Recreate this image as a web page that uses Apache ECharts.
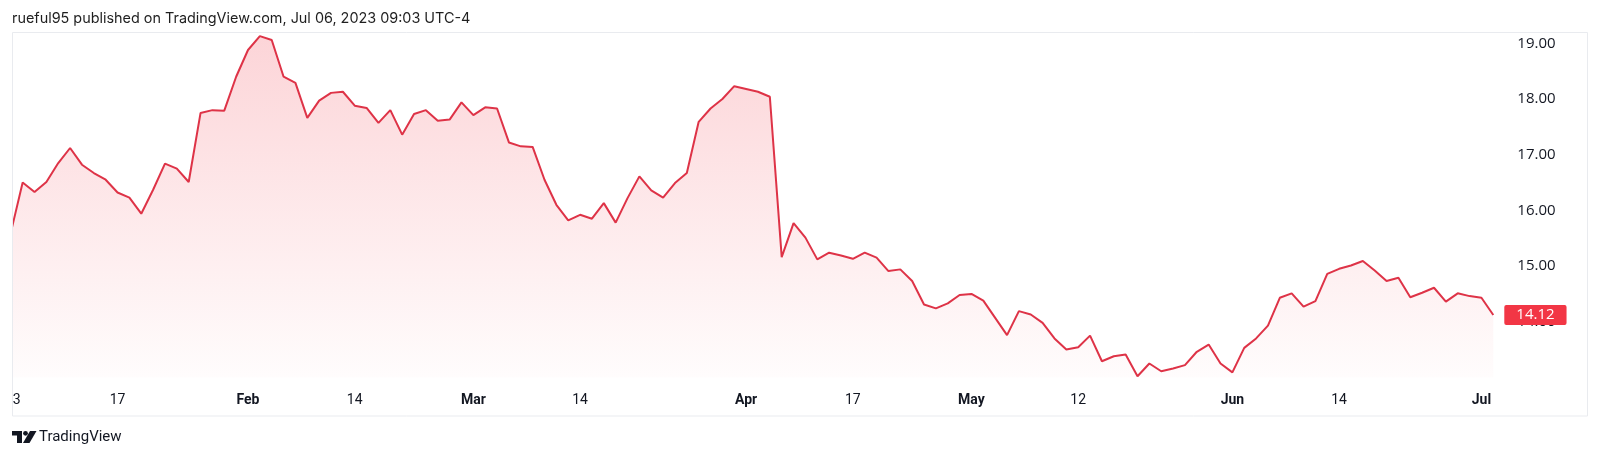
<!DOCTYPE html>
<html>
<head>
<meta charset="utf-8">
<script src="https://cdn.jsdelivr.net/npm/echarts@6/dist/echarts.min.js"></script>
<style>
  html, body { margin: 0; padding: 0; background: #fff; }
  #chart { width: 1600px; height: 458px; }
</style>
</head>
<body>
<div id="chart"></div>
<script>
// trading days 2023, per month
const janDays = [3, 4, 5, 6, 9, 10, 11, 12, 13, 17, 18, 19, 20, 23, 24, 25, 26, 27, 30, 31]
const febDays = [1, 2, 3, 6, 7, 8, 9, 10, 13, 14, 15, 16, 17, 21, 22, 23, 24, 27, 28]
const marDays = [1, 2, 3, 6, 7, 8, 9, 10, 13, 14, 15, 16, 17, 20, 21, 22, 23, 24, 27, 28, 29, 30, 31]
const aprDays = [3, 4, 5, 6, 10, 11, 12, 13, 14, 17, 18, 19, 20, 21, 24, 25, 26, 27, 28]
const mayDays = [1, 2, 3, 4, 5, 8, 9, 10, 11, 12, 15, 16, 17, 18, 19, 22, 23, 24, 25, 26, 30, 31]
const junDays = [1, 2, 5, 6, 7, 8, 9, 12, 13, 14, 15, 16, 20, 21, 22, 23, 26, 27, 28, 29, 30]
const julDays = [3, 5]

const closes = [
  15.60, 16.50, 16.33, 16.51, 16.85, 17.12, 16.82, 16.67, 16.55, 16.32,
  16.23, 15.94, 16.37, 16.84, 16.75, 16.51, 17.75, 17.80, 17.79, 18.40,
  18.88, 19.13, 19.06, 18.40, 18.29, 17.66, 17.97, 18.11, 18.13, 17.88,
  17.84, 17.57, 17.80, 17.36, 17.73, 17.80, 17.61, 17.63, 17.94, 17.71,
  17.85, 17.83, 17.22, 17.15, 17.14, 16.55, 16.10, 15.82, 15.92, 15.85,
  16.13, 15.78, 16.22, 16.61, 16.36, 16.23, 16.49, 16.67, 17.59, 17.83,
  18.00, 18.23, 18.18, 18.13, 18.04, 15.16, 15.77, 15.51, 15.12, 15.24,
  15.19, 15.13, 15.24, 15.15, 14.91, 14.94, 14.73, 14.31, 14.24, 14.33,
  14.48, 14.50, 14.38, 14.07, 13.76, 14.19, 14.13, 13.98, 13.70, 13.50,
  13.54, 13.75, 13.29, 13.38, 13.41, 13.02, 13.25, 13.11, 13.16, 13.22,
  13.46, 13.59, 13.25, 13.09, 13.53, 13.70, 13.93, 14.43, 14.51, 14.27,
  14.37, 14.86, 14.95, 15.01, 15.09, 14.92, 14.73, 14.79, 14.44, 14.52,
  14.61, 14.36, 14.51, 14.46, 14.43, 14.12
]

const tickDates = ['01-03', '01-17', '02-01', '02-14', '03-01', '03-14', '04-03', '04-17', '05-01', '05-12', '06-01', '06-14', '07-03']
const tickLabels = ['3', '17', 'Feb', '14', 'Mar', '14', 'Apr', '17', 'May', '12', 'Jun', '14', 'Jul']
const priceTicks = [14, 15, 16, 17, 18, 19]

const pad = (n) => String(n).padStart(2, '0')
const categories = []
;[janDays, febDays, marDays, aprDays, mayDays, junDays, julDays].forEach((days, m) => {
  days.forEach((d) => categories.push(pad(m + 1) + '-' + pad(d)))
})

const RED = '#F23645'
const LINE = '#DE3347'
const TEXT = '#131722'

const chart = echarts.init(document.getElementById('chart'))

const option = {
  animation: false,
  backgroundColor: '#fff',
  grid: { left: 10.8, right: 106.7, top: 0, bottom: 80.6 },
  xAxis: {
    type: 'category',
    data: categories,
    boundaryGap: false,
    axisLine: { show: false },
    axisTick: { show: false },
    splitLine: { show: false },
    axisLabel: {
      margin: 16,
      alignMinLabel: 'left',
      interval: (idx, val) => tickDates.includes(val),
      formatter: (val) => {
        const lbl = tickLabels[tickDates.indexOf(val)]
        if (val === categories[0]) return '{f|' + lbl + '}'
        return /^\d+$/.test(lbl) ? '{n|' + lbl + '}' : '{b|' + lbl + '}'
      },
      rich: {
        n: { fontFamily: 'Roboto', fontSize: 14, color: TEXT, lineHeight: 14 },
        f: { fontFamily: 'Roboto', fontSize: 14, color: TEXT, lineHeight: 14, padding: [0, 0, 0, 2] },
        b: { fontFamily: 'Roboto', fontSize: 14, fontWeight: 'bold', color: TEXT, lineHeight: 14 },
      },
    },
  },
  yAxis: {
    type: 'value',
    position: 'right',
    min: 13,
    max: 19.778,
    interval: 1,
    axisLine: { show: false },
    axisTick: { show: false },
    splitLine: { show: false },
    axisLabel: {
      margin: 24,
      showMaxLabel: false,
      fontFamily: 'Open Sans',
      fontSize: 15,
      color: TEXT,
      formatter: (v) => {
        const r = Math.round(v)
        return Math.abs(v - r) < 1e-6 && priceTicks.includes(r) ? r.toFixed(2) : ''
      },
    },
  },
  series: [
    {
      type: 'line',
      data: closes,
      symbol: 'none',
      clip: false,
      lineStyle: { color: LINE, width: 2 },
      areaStyle: {
        color: new echarts.graphic.LinearGradient(0, 0, 0, 1, [
          { offset: 0, color: 'rgba(242,54,69,0.30)' },
          { offset: 1, color: 'rgba(242,54,69,0.02)' },
        ]),
      },
      markLine: {
        silent: true,
        symbol: 'none',
        z: 10,
        lineStyle: { width: 0, color: 'rgba(0,0,0,0)', type: 'solid' },
        data: [{ yAxis: closes[closes.length - 1] }],
        label: {
          show: true,
          position: 'end',
          distance: 11,
          formatter: (p) => p.value.toFixed(2),
          backgroundColor: RED,
          color: '#fff',
          fontFamily: 'Open Sans',
          fontSize: 15,
          lineHeight: 14,
          padding: [3, 12, 3, 12],
          borderRadius: 2,
        },
      },
    },
  ],
  graphic: [
    { type: 'rect', z: 100, shape: { x: 0, y: 33, width: 12, height: 350 }, style: { fill: '#fff' } },
    {
      type: 'rect', z: 101,
      shape: { x: 12.5, y: 32.5, width: 1575, height: 383.5 },
      style: { fill: 'none', stroke: '#E9EBEF', lineWidth: 1 },
    },
    {
      type: 'text', z: 101, x: 12, y: 19,
      style: {
        text: 'rueful95 published on TradingView.com, Jul 06, 2023 09:03 UTC-4',
        font: '14.4px Inter', fill: '#1f1f1f', textVerticalAlign: 'middle',
      },
    },
    // TradingView logo mark
    { type: 'rect', z: 101, shape: { x: 12, y: 431, width: 10, height: 4.5 }, style: { fill: TEXT } },
    { type: 'rect', z: 101, shape: { x: 17, y: 431, width: 5, height: 12 }, style: { fill: TEXT } },
    { type: 'circle', z: 101, shape: { cx: 25.5, cy: 433.3, r: 2.4 }, style: { fill: TEXT } },
    {
      type: 'polygon', z: 101,
      shape: { points: [[30, 431], [36.5, 431], [29.5, 443], [23, 443]] },
      style: { fill: TEXT },
    },
    {
      type: 'text', z: 101, x: 39, y: 437,
      style: { text: 'TradingView', font: '15px Roboto', fill: TEXT, textVerticalAlign: 'middle' },
    },
  ],
}

chart.setOption(option)
window.addEventListener('resize', () => chart.resize())
</script>
</body>
</html>
